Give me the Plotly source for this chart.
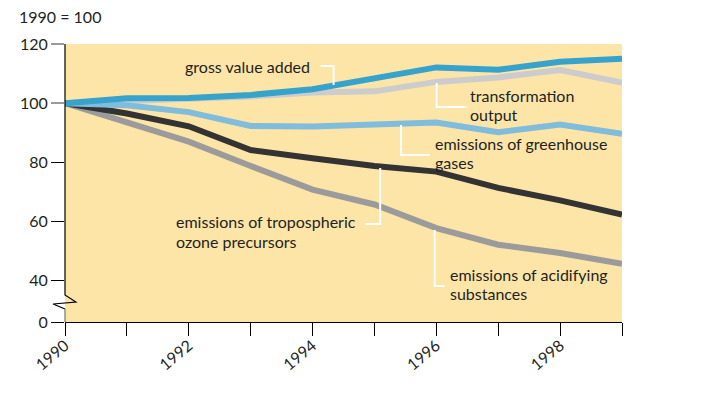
import plotly.graph_objects as go

years = list(range(1990, 2000))
gross_value_added = [100, 101.7, 101.8, 102.8, 104.7, 108.4, 112.1, 111.3, 114.0, 115.0]
transformation_output = [100, 100.6, 101.2, 102.3, 103.6, 104.0, 107.2, 108.7, 111.2, 107.0]
greenhouse_gases = [100, 99.3, 97.0, 92.3, 92.1, 93.0, 93.5, 90.2, 92.8, 89.7]
ozone_precursors = [100, 96.5, 92.2, 84.2, 81.4, 78.8, 76.9, 71.4, 67.2, 62.4]
acidifying = [100, 93.5, 87.0, 78.8, 70.8, 65.8, 57.8, 52.2, 49.4, 45.8]

x_labels = ["1990", "", "1992", "", "1994", "", "1996", "", "1998", ""]
y_ticks_grey = [120, 100]
y_ticks_black = [80, 60, 40]
y_zero_pos = 26.1  # position of the "0" tick on the broken axis

FONT = "Lato, Noto Sans, sans-serif"
FS = 16
TXT = "#231f20"
BG = "#fde5a8"

OFF = 8  # page body margin
W, H = 710, 399
PL, PR, PT, PB = 60, 622, 44, 322   # plot area in page pixels
X0, X1 = 1990, 1999
Y0, Y1 = y_zero_pos, 120


def px_x(px):
    return X0 + (px - PL) / (PR - PL) * (X1 - X0)


def px_y(py):
    return Y1 - (py - PT) / (PB - PT) * (Y1 - Y0)


def pxp(px, py):
    return f"{(px - PL) / (PR - PL)} {1 - (py - PT) / (PB - PT)}"


fig = go.Figure()

series = [
    ("emissions of acidifying substances", acidifying, "#9b9b9b"),
    ("emissions of tropospheric ozone precursors", ozone_precursors, "#333333"),
    ("transformation output", transformation_output, "#cccccc"),
    ("emissions of greenhouse gases", greenhouse_gases, "#80bcdc"),
    ("gross value added", gross_value_added, "#36a3cd"),
]
for name, vals, col in series:
    fig.add_trace(go.Scatter(x=years, y=vals, mode="lines", name=name,
                             line=dict(color=col, width=6), showlegend=False))

fig.add_trace(go.Scatter(x=[X0], y=[100], yaxis="y2", mode="markers",
                         marker=dict(opacity=0), showlegend=False, hoverinfo="skip"))

leaders = [
    [(318, 66), (331, 66), (331, 85)],
    [(435, 83), (435, 107), (465, 107)],
    [(399, 125), (399, 155), (428, 155)],
    [(363, 224), (378, 224), (378, 168)],
    [(433, 230), (433, 286), (443, 286)],
]
for pts in leaders:
    path = "M " + " L ".join(f"{px_x(a)} {px_y(b)}" for a, b in pts)
    fig.add_shape(type="path", path=path, xref="x", yref="y",
                  line=dict(color="white", width=2))

labels = [
    ("gross value added", 179, 66),
    ("transformation", 467, 95),
    ("output", 467, 114.5),
    ("emissions of greenhouse", 431, 143),
    ("gases", 431, 162.5),
    ("emissions of tropospheric", 170, 221.5),
    ("ozone precursors", 170, 241),
    ("emissions of acidifying", 446, 274),
    ("substances", 446, 293.5),
]
for txt, a, b in labels:
    fig.add_annotation(x=px_x(a), y=px_y(b), text=txt, showarrow=False,
                       xanchor="left", yanchor="middle", align="left",
                       font=dict(family=FONT, size=FS, color=TXT))

fig.add_shape(type="path", xref="paper", yref="paper",
              path=f"M {pxp(60, 44)} L {pxp(60, 295)} L {pxp(71, 302)} L {pxp(48, 304)} L {pxp(60, 309)}",
              line=dict(color="black", width=1.2))
fig.add_shape(type="line", xref="paper", yref="paper",
              x0=0, x1=0, y0=1 - (309 - PT) / (PB - PT), y1=0,
              line=dict(color="#777777", width=1.2))

fig.add_annotation(x=0, y=1, xref="paper", yref="paper", xshift=-48, yshift=16,
                   text="1990 = 100", showarrow=False, xanchor="left", yanchor="bottom",
                   font=dict(family=FONT, size=FS, color=TXT))

fig.update_layout(
    width=W, height=H,
    margin=dict(l=PL - OFF, r=W - (PR - OFF), t=PT - OFF, b=H - (PB - OFF), pad=0),
    paper_bgcolor="white", plot_bgcolor=BG,
    xaxis=dict(range=[X0, X1], tickvals=years, ticktext=x_labels, tickangle=-40,
               ticks="outside", ticklen=13, tickcolor="black", tickwidth=1.2,
               ticklabelstandoff=-6,
               showline=True, linecolor="black", linewidth=1.2, showgrid=False,
               zeroline=False, tickfont=dict(family=FONT, size=FS, color=TXT)),
    yaxis=dict(range=[Y0, Y1], tickvals=y_ticks_black + [y_zero_pos],
               ticktext=[str(v) for v in y_ticks_black] + ["0"],
               ticks="outside", ticklen=13, tickcolor="black", tickwidth=1.2,
               showline=False, showgrid=False, zeroline=False,
               tickfont=dict(family=FONT, size=FS, color=TXT)),
    yaxis2=dict(range=[Y0, Y1], overlaying="y", side="left", tickvals=y_ticks_grey,
                ticktext=[str(v) for v in y_ticks_grey],
                ticks="outside", ticklen=13, tickcolor="#9b9b9b", tickwidth=2.2,
                showline=False, showgrid=False, zeroline=False,
                tickfont=dict(family=FONT, size=FS, color=TXT)),
)

fig.write_html("out.html")
